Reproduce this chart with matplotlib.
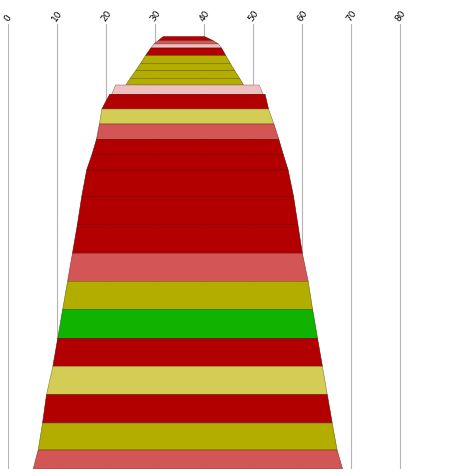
import numpy as np
import matplotlib
matplotlib.use("Agg")
import matplotlib.pyplot as plt
import matplotlib.colors as mcolors

# ── band data (top → bottom) ────────────────────────────────────────────────
heights = [4.0, 3.3, 4.0, 7.7, 7.6, 7.4, 7.6, 6.7, 9.3, 14.7, 15.0, 15.3, 15.0,
           15.7, 26.3, 28.4, 28.6, 28.0, 28.0, 29.0, 28.0, 28.4, 28.3, 27.0, 18.7]

left_top  = [31.6, 30.6, 29.7, 29.1, 28.0, 27.0, 26.0, 24.9, 21.9, 20.7, 19.1, 18.6,
             18.0, 17.1, 16.0, 15.0, 14.1, 13.1, 12.1, 11.1, 10.1, 9.1, 7.8, 7.0, 6.1]
right_top = [40.1, 41.8, 42.9, 43.5, 44.4, 45.3, 46.2, 47.2, 51.2, 52.4, 53.1, 54.2,
             55.2, 56.1, 57.1, 58.2, 59.1, 60.0, 61.2, 62.1, 63.1, 64.1, 65.1, 66.1, 67.1]
left_bot  = [30.6, 29.7, 29.1, 28.0, 27.0, 26.0, 24.9, 24.0, 21.1, 19.1, 18.6, 18.0,
             17.1, 16.0, 15.0, 14.1, 13.1, 12.1, 11.1, 10.1, 9.1, 7.8, 7.0, 6.1, 5.1]
right_bot = [41.8, 42.9, 43.5, 44.4, 45.3, 46.2, 47.2, 48.0, 52.0, 53.1, 54.2, 55.2,
             56.1, 57.1, 58.2, 59.1, 60.0, 61.2, 62.1, 63.1, 64.1, 65.1, 66.1, 67.1, 68.2]

kinds = ["red", "salmon", "pink", "red", "olive", "olive", "olive", "olive",
         "pink", "red", "yellow", "salmon", "red", "red", "red", "red", "red",
         "salmon", "olive", "green", "red", "yellow", "red", "olive", "salmon"]

palette = {
    "red":    "#B20000",
    "salmon": "#D45555",
    "pink":   "#F0C0C0",
    "olive":  "#B3AD00",
    "yellow": "#D3CC55",
    "green":  "#10B300",
}

x_ticks = [0, 10, 20, 30, 40, 50, 60, 70, 80]
first_gap = 12.7   # empty space above the first band

# ── plot ────────────────────────────────────────────────────────────────────
fig = plt.figure(figsize=(4.52, 4.77), dpi=100)
ax = fig.add_axes([8.3 / 452, 7 / 477, 441 / 452, 445 / 477])

tops = np.concatenate([[0], np.cumsum(heights)[:-1]])
for i, h in enumerate(heights):
    y0, y1 = tops[i], tops[i] + h
    face = mcolors.to_rgb(palette[kinds[i]])
    edge = tuple(c * 0.6 for c in face)
    ax.fill([left_top[i], right_top[i], right_bot[i], left_bot[i]],
            [y0, y0, y1, y1], facecolor=face, edgecolor=edge,
            linewidth=0.4, zorder=3)

ax.set_xlim(0, 90)
ax.set_ylim(sum(heights) + 0.3, -first_gap)

ax.set_xticks(x_ticks)
ax.set_xticklabels([str(t) for t in x_ticks], rotation=55, fontsize=6.5,
                   ha="center", va="bottom")
ax.xaxis.tick_top()
ax.tick_params(axis="x", length=0, pad=1.5)
ax.set_yticks([])
ax.grid(axis="x", color="#B4B4B4", linewidth=0.8, zorder=0)
for s in ax.spines.values():
    s.set_visible(False)

plt.savefig("out.png", dpi=100)
